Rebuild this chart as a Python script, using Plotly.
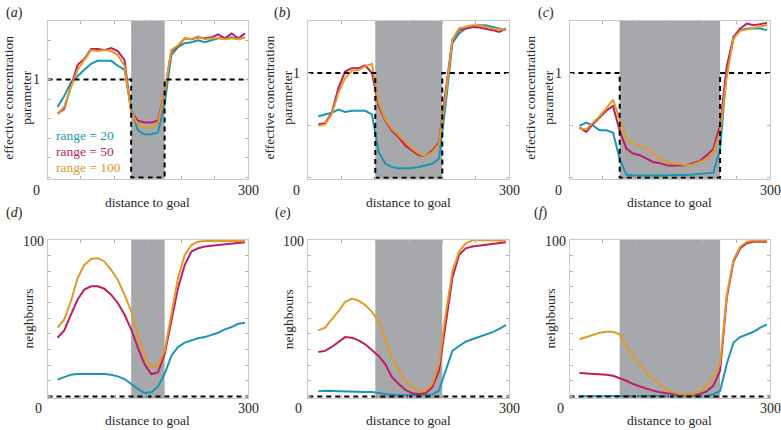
"""
Effective concentration and neighbour counts vs distance to goal
Six panels (a)-(f), three interaction ranges each
"""

import plotly.graph_objects as go

# ---- data ----
dist = [15, 25, 35, 45, 55, 65, 75, 85, 95, 105, 115, 125, 135, 145, 155,
        165, 175, 185, 195, 205, 215, 225, 235, 245, 255, 265, 275, 285, 295]

ranges = [20, 50, 100]

# shaded zone (start, end) for each column of panels
band_edges = [(125, 175), (100, 200), (75, 225)]

# (a) effective concentration parameter, linear axis
conc_a_20 = [0.72, 0.83, 0.97, 1.04, 1.10, 1.16, 1.19, 1.19, 1.19, 1.14, 1.10, 0.70, 0.48, 0.44, 0.44,
             0.46, 0.75, 1.25, 1.33, 1.37, 1.38, 1.40, 1.38, 1.40, 1.42, 1.42, 1.43, 1.41, 1.43]
conc_a_50 = [0.65, 0.70, 0.93, 1.15, 1.21, 1.31, 1.31, 1.30, 1.32, 1.29, 1.20, 0.67, 0.58, 0.56, 0.56,
             0.58, 0.87, 1.29, 1.34, 1.42, 1.41, 1.43, 1.42, 1.43, 1.46, 1.42, 1.47, 1.42, 1.47]
conc_a_100 = [0.65, 0.72, 0.92, 1.10, 1.20, 1.30, 1.29, 1.30, 1.29, 1.25, 1.14, 0.67, 0.54, 0.51, 0.51,
              0.55, 0.87, 1.30, 1.35, 1.42, 1.41, 1.44, 1.41, 1.42, 1.42, 1.41, 1.42, 1.41, 1.43]

# (b) log axis
conc_b_20 = [0.15, 0.163, 0.175, 0.20, 0.18, 0.19, 0.19, 0.19, 0.163, 0.031, 0.0185, 0.016, 0.015, 0.015, 0.0153,
             0.016, 0.017, 0.0185, 0.023, 0.25, 3.7, 5.7, 7.1, 7.6, 8.2, 8.2, 7.6, 7.1, 6.6]
conc_b_50 = [0.105, 0.11, 0.175, 0.52, 1.07, 1.24, 1.24, 1.4, 1.0, 0.24, 0.122, 0.079, 0.059, 0.041, 0.033,
             0.027, 0.026, 0.033, 0.047, 0.42, 4.3, 6.6, 7.1, 7.6, 7.4, 7.1, 6.6, 6.1, 7.1]
conc_b_100 = [0.098, 0.105, 0.163, 0.42, 0.80, 1.1, 1.15, 1.34, 1.5, 0.27, 0.13, 0.085, 0.064, 0.047, 0.036,
              0.029, 0.026, 0.031, 0.044, 0.36, 4.3, 7.1, 7.6, 8.2, 8.2, 7.6, 7.1, 6.8, 6.8]

# (c) log axis
conc_c_20 = [0.098, 0.113, 0.10, 0.081, 0.081, 0.073, 0.023, 0.0115, 0.011, 0.011, 0.0108, 0.011, 0.0112, 0.011, 0.0113,
             0.0112, 0.0113, 0.0115, 0.0118, 0.012, 0.0125, 0.035, 1.16, 4.6, 6.6, 7.1, 7.1, 7.1, 6.6]
conc_c_50 = [0.091, 0.075, 0.106, 0.14, 0.19, 0.235, 0.079, 0.036, 0.029, 0.027, 0.023, 0.020, 0.019, 0.0174, 0.017,
             0.017, 0.0174, 0.019, 0.021, 0.027, 0.036, 0.10, 1.34, 4.9, 7.1, 8.8, 8.2, 8.6, 9.0]
conc_c_100 = [0.087, 0.084, 0.113, 0.15, 0.21, 0.31, 0.13, 0.055, 0.046, 0.041, 0.036, 0.029, 0.023, 0.020, 0.019,
              0.018, 0.0174, 0.018, 0.020, 0.023, 0.031, 0.074, 0.86, 4.6, 6.4, 6.8, 7.2, 7.5, 8.2]

# (d)-(f) neighbours
nb_d_20 = [10.8, 12.3, 14.0, 14.4, 14.4, 14.8, 14.8, 14.4, 14.0, 12.9, 11.2, 8.0, 4.9, 2.3, 2.7,
           6.3, 14.4, 26.0, 31.7, 34.5, 36.0, 37.2, 38.0, 39.3, 40.8, 42.9, 44.4, 46.5, 47.1]
nb_d_50 = [37.6, 42.3, 52.4, 62.0, 68.3, 70.4, 70.4, 68.9, 65.1, 59.8, 52.4, 42.9, 31.3, 20.7, 14.4,
           15.4, 27.0, 48.2, 69.3, 84.0, 92.6, 94.7, 95.8, 96.4, 96.8, 97.3, 97.7, 98.1, 98.5]
nb_d_100 = [44.0, 49.3, 60.9, 75.7, 84.1, 87.9, 88.4, 86.3, 81.0, 74.6, 65.1, 54.5, 38.7, 27.0, 19.0,
            19.7, 29.2, 52.4, 75.7, 90.5, 96.8, 98.9, 99.4, 99.4, 99.4, 99.4, 99.4, 99.4, 99.4]

nb_e_20 = [3.4, 3.8, 3.6, 3.4, 3.2, 3.2, 3.2, 3.0, 3.0, 2.3, 1.5, 1.1, 0.8, 0.8, 0.8,
           0.8, 1.1, 1.3, 3.8, 16.5, 29.2, 32.3, 35.1, 36.6, 38.0, 39.3, 41.2, 43.3, 45.7]
nb_e_50 = [28.5, 29.2, 31.7, 35.1, 38.0, 37.6, 35.9, 33.4, 29.6, 26.0, 20.7, 12.3, 8.0, 4.2, 2.1,
           1.7, 2.1, 5.9, 16.5, 46.1, 75.7, 90.5, 94.7, 95.8, 96.4, 96.8, 97.5, 97.9, 98.5]
nb_e_100 = [42.3, 44.0, 49.3, 54.5, 60.5, 62.6, 61.3, 58.4, 54.1, 48.2, 36.6, 24.9, 16.5, 10.1, 5.9,
            3.8, 3.8, 8.0, 20.7, 52.4, 79.9, 92.6, 97.9, 99.8, 100.0, 100.0, 99.8, 99.8, 99.6]

nb_f_20 = [0.2, 0.2, 0.2, 0.2, 0.2, 0.2, 0.2, 0.2, 0.2, 0.2, 0.2, 0.2, 0.2, 0.2, 0.2,
           0.2, 0.2, 0.2, 0.2, 0.5, 1.5, 3.5, 21.0, 34.5, 38.0, 39.7, 41.4, 44.0, 46.1]
nb_f_50 = [15.0, 14.8, 14.8, 14.4, 14.0, 13.3, 11.8, 10.1, 8.0, 6.3, 5.1, 3.8, 2.7, 2.1, 1.5,
           1.3, 1.1, 1.3, 1.7, 3.4, 7.0, 16.5, 63.0, 86.3, 94.7, 97.9, 98.9, 98.9, 98.9]
nb_f_100 = [36.6, 38.0, 39.3, 40.8, 41.4, 41.4, 39.7, 32.3, 26.0, 20.7, 15.4, 11.2, 7.6, 4.9, 2.7,
            1.7, 1.3, 1.7, 3.4, 7.0, 12.3, 20.7, 65.1, 87.3, 95.8, 98.9, 99.6, 99.6, 99.6]

panel_series = [
    [conc_a_20, conc_a_50, conc_a_100],
    [conc_b_20, conc_b_50, conc_b_100],
    [conc_c_20, conc_c_50, conc_c_100],
    [nb_d_20, nb_d_50, nb_d_100],
    [nb_e_20, nb_e_50, nb_e_100],
    [nb_f_20, nb_f_50, nb_f_100],
]
panel_letters = ["a", "b", "c", "d", "e", "f"]

# ---- styling ----
COLORS = ["#1b95b1", "#c01e63", "#e09a28"]
BAND_COLOR = "#a7a8ab"
FRAME = "#c9c9c9"
FONT = "Liberation Serif"
TXT = "#262626"

W, H = 781, 430
COLS_PX = [(47.5, 248.3), (308.3, 509.3), (569.5, 770.3)]
ROWS_PX = [(20.7, 178.8), (240.0, 398.0)]
LABEL_PX = [(14, 12.5), (282.5, 12.5), (546, 12.5), (14.5, 213), (282.5, 213), (541, 213)]


def px_x(px):
    return px / W


def px_y(py):
    return 1 - py / H


fig = go.Figure()
shapes = []
annotations = []
layout_axes = {}

for i in range(6):
    row, col = divmod(i, 3)
    n = i + 1
    xa = "x" if n == 1 else f"x{n}"
    ya = "y" if n == 1 else f"y{n}"
    L, R = COLS_PX[col]
    T, B = ROWS_PX[row]

    axis_common = dict(
        showticklabels=False, ticks="inside", ticklen=3, tickcolor="#b5b5b5",
        showline=True, linecolor=FRAME, linewidth=1, mirror="ticks",
        showgrid=False, zeroline=False, fixedrange=True,
    )
    layout_axes[f"xaxis{'' if n == 1 else n}"] = dict(
        domain=[px_x(L), px_x(R)], range=[0, 300], anchor=ya,
        tickvals=[0, 50, 100, 150, 200, 250, 300], **axis_common)

    if row == 0 and col == 0:
        yax = dict(range=[-0.014, 1.6], tickvals=[0, 0.2, 0.4, 0.6, 0.8, 1.0, 1.2, 1.4, 1.6])
        y_low, y_one = 0, 1
    elif row == 0:
        yax = dict(type="log", range=[-2.02, 1], tickvals=[0.01, 0.1, 1, 10])
        y_low, y_one = 0.01, 0
    else:
        yax = dict(range=[-0.9, 100], tickvals=list(range(0, 101, 10)))
    layout_axes[f"yaxis{'' if n == 1 else n}"] = dict(
        domain=[px_y(B), px_y(T)], anchor=xa, **yax, **axis_common)

    # shaded zone
    b0, b1 = band_edges[col]
    shapes.append(dict(type="rect", xref=xa, yref=f"{ya} domain", x0=b0, x1=b1, y0=0, y1=1,
                       fillcolor=BAND_COLOR, line=dict(width=0), layer="below"))

    # the three ranges
    for series, color, rng in zip(panel_series[i], COLORS, ranges):
        fig.add_trace(go.Scatter(x=dist, y=series, mode="lines", xaxis=xa, yaxis=ya,
                                 line=dict(color=color, width=2), name=f"range = {rng}",
                                 showlegend=False, hoverinfo="skip"))

    # dashed target line
    if row == 0:
        tx = [0, b0, b0, b1, b1, 300]
        ty = [1, 1, y_low, y_low, 1, 1]
    else:
        tx = [0, 300]
        ty = [0, 0]
    fig.add_trace(go.Scatter(x=tx, y=ty, mode="lines", xaxis=xa, yaxis=ya,
                             line=dict(color="black", width=2, dash="5px,4px"),
                             showlegend=False, hoverinfo="skip"))

    # tick labels and titles
    tick_font = dict(family=FONT, size=14, color=TXT)
    title_font = dict(family=FONT, size=13.5, color=TXT)
    below = 11.5 if row == 0 else 10
    annotations.append(dict(text="0", xref="paper", yref="paper", x=px_x(L - (11.5 if row == 0 else 9.5)),
                            y=px_y(B + below), showarrow=False, font=tick_font,
                            xanchor="center", yanchor="middle"))
    annotations.append(dict(text="300", xref="paper", yref="paper", x=px_x(R), y=px_y(B + below),
                            showarrow=False, font=tick_font, xanchor="center", yanchor="middle"))
    annotations.append(dict(text="distance to goal", xref="paper", yref="paper", x=px_x((L + R) / 2),
                            y=px_y(B + (24 if row == 0 else 22)), showarrow=False, font=title_font,
                            xanchor="center", yanchor="middle"))
    if row == 0:
        annotations.append(dict(text="1", xref=f"{xa} domain", yref=ya, x=0, y=y_one, xshift=-6,
                                showarrow=False, font=tick_font, xanchor="right", yanchor="middle"))
        annotations.append(dict(text="effective concentration<br>parameter", xref="paper", yref="paper",
                                x=px_x(L - 29.5), y=px_y((T + B) / 2 - 2), textangle=-90,
                                showarrow=False, font=title_font, xanchor="center", yanchor="middle"))
    else:
        annotations.append(dict(text="100", xref=f"{xa} domain", yref=ya, x=0, y=100, xshift=-2,
                                yshift=-1, showarrow=False, font=tick_font, xanchor="right",
                                yanchor="middle"))
        annotations.append(dict(text="neighbours", xref="paper", yref="paper", x=px_x(L - 20),
                                y=px_y((T + B) / 2), textangle=-90, showarrow=False, font=title_font,
                                xanchor="center", yanchor="middle"))

    lx, ly = LABEL_PX[i]
    annotations.append(dict(text=f"(<i>{panel_letters[i]}</i>)", xref="paper", yref="paper",
                            x=px_x(lx), y=px_y(ly), showarrow=False,
                            font=dict(family=FONT, size=14, color=TXT),
                            xanchor="center", yanchor="middle"))

# legend written inside panel (a)
for k, (rng, color) in enumerate(zip(ranges, COLORS)):
    annotations.append(dict(text=f"range = {rng}", xref="paper", yref="paper",
                            x=px_x(53.5), y=px_y(135.5 + 16 * k), showarrow=False,
                            font=dict(family=FONT, size=13.5, color=color),
                            xanchor="left", yanchor="middle"))

fig.update_layout(
    width=W, height=H,
    margin=dict(l=0, r=0, t=0, b=0),
    paper_bgcolor="white", plot_bgcolor="white",
    showlegend=False,
    shapes=shapes, annotations=annotations,
    **layout_axes,
)

# page body has a default 8px margin; drop it so the figure sits at the window origin
fig.write_html("out.html", config={"displayModeBar": False},
               post_script="document.body.style.margin='0px';")
